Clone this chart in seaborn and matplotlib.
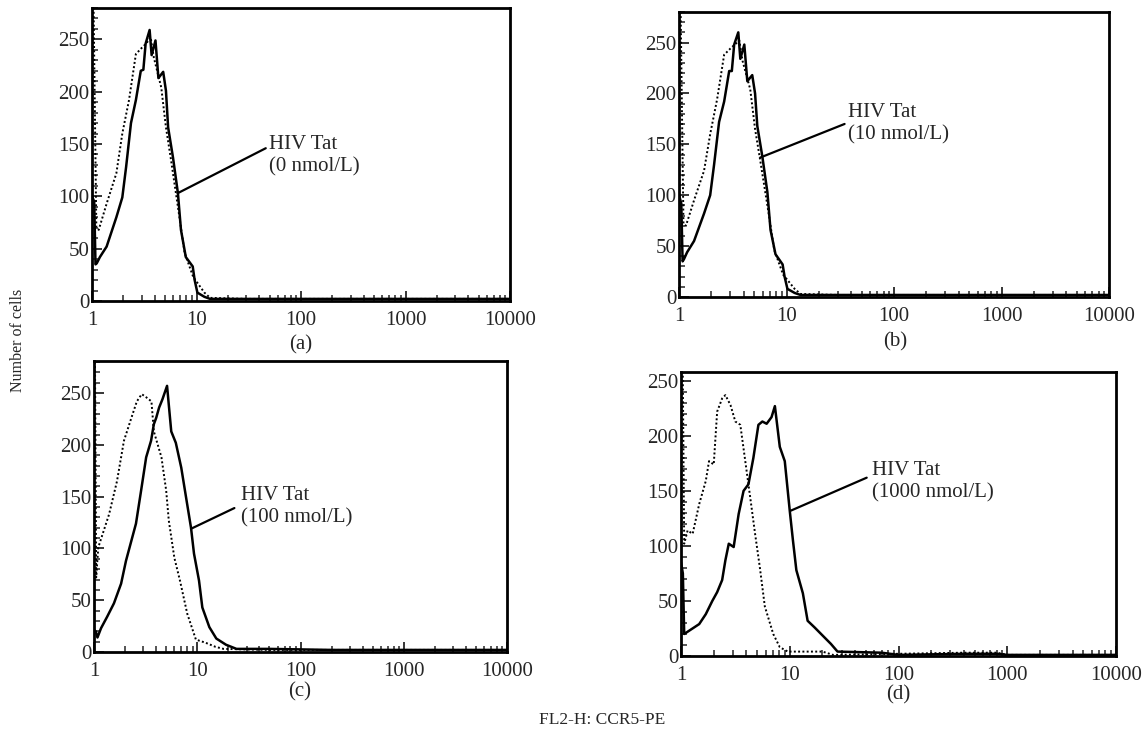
import numpy as np
import pandas as pd
import seaborn as sns
import matplotlib
matplotlib.use("Agg")
import matplotlib.pyplot as plt
from matplotlib.ticker import LogLocator, FixedLocator, MultipleLocator, NullFormatter

# ---------------- data ----------------
# panel (a): HIV Tat 0 nmol/L
a_solid_x = [1.0, 1.05, 1.08, 1.11, 1.19, 1.38, 1.71, 1.95, 2.12, 2.36, 2.63, 2.93, 3.1, 3.26, 3.56, 3.72, 4.05, 4.32,
             4.8, 5.1, 5.35, 5.96, 6.64, 7.1, 7.9, 9.2, 9.6, 10.2, 11.9, 13.5, 30, 100, 1000, 10000]
a_solid_y = [100, 95, 35, 36, 42, 52, 80, 99, 128, 170, 192, 220, 221, 246, 259, 235, 249, 213,
             219, 201, 166, 137, 103, 68, 42, 33, 20, 8, 4, 2, 2, 2, 2, 2]
a_dot_x = [1.0, 1.03, 1.1, 1.16, 1.38, 1.71, 1.95, 2.26, 2.63, 3.0, 3.3, 3.64, 3.9, 4.6, 5.1, 5.7, 6.64, 7.7,
           9.3, 11.9, 13.5, 30, 100, 1000, 10000]
a_dot_y = [300, 300, 70, 68, 93, 122, 160, 192, 236, 242, 246, 252, 233, 204, 166, 135, 90, 46,
           23, 8, 3, 2, 2, 2, 2]

# panel (b): HIV Tat 10 nmol/L
b_solid_x = [1.0, 1.05, 1.08, 1.11, 1.19, 1.38, 1.71, 1.95, 2.12, 2.36, 2.63, 2.93, 3.1, 3.26, 3.56, 3.72, 4.05, 4.32,
             4.8, 5.1, 5.35, 5.96, 6.64, 7.1, 7.9, 9.2, 9.6, 10.2, 11.9, 13.5, 30, 100, 1000, 10000]
b_solid_y = [100, 92, 35, 37, 44, 55, 82, 100, 130, 172, 192, 222, 222, 248, 260, 234, 248, 212,
             218, 200, 168, 138, 103, 66, 42, 32, 20, 8, 4, 2, 2, 2, 2, 2]
b_dot_x = [1.0, 1.03, 1.1, 1.16, 1.38, 1.71, 1.95, 2.26, 2.63, 3.0, 3.3, 3.64, 3.9, 4.6, 5.1, 5.7, 6.64, 7.7,
           9.3, 11.9, 13.5, 30, 100, 1000, 10000]
b_dot_y = [300, 300, 72, 70, 95, 124, 160, 194, 238, 244, 248, 252, 232, 204, 165, 134, 90, 46,
           22, 8, 3, 2, 2, 2, 2]

# panel (c): HIV Tat 100 nmol/L
c_solid_x = [1.0, 1.04, 1.08, 1.17, 1.34, 1.56, 1.83, 2.04, 2.55, 2.86, 3.2, 3.57, 3.8, 4.0, 4.27, 4.6, 5.1, 5.6,
             6.2, 7.0, 7.8, 8.7, 9.3, 10.4, 11.2, 13.1, 15.3, 19, 24, 50, 200, 1000, 10000]
c_solid_y = [21, 20, 14, 23, 34, 47, 66, 88, 124, 156, 188, 204, 220, 226, 236, 244, 257, 213,
             202, 178, 149, 120, 95, 69, 43, 24, 13, 7, 3, 3, 2, 2, 2]
c_dot_x = [1.0, 1.02, 1.05, 1.1, 1.4, 1.67, 1.95, 2.3, 2.6, 2.9, 3.2, 3.6, 3.8, 4.5, 5.0, 5.3, 6.0, 6.8, 8.0,
           9.7, 12, 15, 18, 50, 200, 1000, 10000]
c_dot_y = [300, 300, 72, 101, 133, 165, 204, 226, 242, 249, 246, 242, 213, 188, 156, 127, 91, 69, 37,
           12, 9, 5, 3, 2, 2, 2, 2]

# panel (d): HIV Tat 1000 nmol/L
d_solid_x = [1.0, 1.04, 1.07, 1.47, 1.69, 1.94, 2.15, 2.39, 2.56, 2.75, 3.05, 3.39, 3.76, 4.17, 4.63, 5.15, 5.6,
             6.13, 6.8, 7.3, 8.1, 9.0, 10.0, 10.7, 11.5, 13.2, 14.6, 16.9, 20.8, 23.9, 27.5, 70, 100, 400, 800,
             1000, 10000]
d_solid_y = [85, 75, 20, 29, 38, 50, 58, 69, 87, 102, 99, 129, 150, 156, 180, 210, 213,
             211, 217, 227, 190, 177, 132, 105, 78, 57, 32, 26, 17, 11, 4, 3, 1, 2, 2,
             1, 1]
d_dot_x = [1.0, 1.03, 1.07, 1.15, 1.28, 1.47, 1.69, 1.81, 2.0, 2.15, 2.39, 2.56, 2.85, 3.16, 3.51, 3.9, 4.33,
           4.8, 5.3, 5.9, 7.05, 8.1, 9.6, 20, 25, 400, 800, 1000, 10000]
d_dot_y = [300, 300, 102, 114, 111, 138, 159, 177, 174, 222, 234, 237, 228, 213, 210, 177, 144,
           111, 81, 45, 20, 8, 4, 4, 1, 3, 3, 1, 1]

panel_letters = ["(a)", "(b)", "(c)", "(d)"]
panel_labels = ["HIV Tat\n(0 nmol/L)", "HIV Tat\n(10 nmol/L)", "HIV Tat\n(100 nmol/L)", "HIV Tat\n(1000 nmol/L)"]
x_ticks = [1, 10, 100, 1000, 10000]
x_ticklabels = ["1", "10", "100", "1000", "10000"]
y_ticks = [0, 50, 100, 150, 200, 250]
ylabel = "Number of cells"
xlabel = "FL2-H: CCR5-PE"

# ---------------- style ----------------
sns.set_style("ticks")
plt.rcParams["font.family"] = ["Liberation Serif", "DejaVu Serif"]
plt.rcParams["mathtext.fontset"] = "stix"

W, H = 1147, 733
fig = plt.figure(figsize=(W / 100, H / 100), dpi=100)

# axes rectangles in pixels: left, right, top, bottom
rects = [(92, 510, 8, 301), (679, 1109, 12, 297), (94, 507, 361, 652), (681, 1116, 372, 656)]
ylims = [280, 280, 281, 258]
# annotation: (line start xy), (line end xy), (text xy)
annos = [((6.6, 103), (46, 146), (49, 139)),
         ((5.7, 137), (34.7, 170), (37, 170)),
         ((8.7, 119), (22.9, 139), (26.6, 140)),
         ((10.2, 132), (51, 162), (57, 158))]
letter_pos = [(301, 345), (895, 342), (300, 692), (898, 695)]

panels = [(a_solid_x, a_solid_y, a_dot_x, a_dot_y),
          (b_solid_x, b_solid_y, b_dot_x, b_dot_y),
          (c_solid_x, c_solid_y, c_dot_x, c_dot_y),
          (d_solid_x, d_solid_y, d_dot_x, d_dot_y)]

for i, (sx, sy, dx, dy) in enumerate(panels):
    l, r, t, b = rects[i]
    ax = fig.add_axes([l / W, 1 - b / H, (r - l) / W, (b - t) / H])
    df_s = pd.DataFrame({"x": sx, "y": sy})
    df_d = pd.DataFrame({"x": dx, "y": dy})
    sns.lineplot(data=df_d, x="x", y="y", ax=ax, color="black", linestyle=(0, (1, 1.2)),
                 linewidth=1.4, estimator=None, sort=False)
    sns.lineplot(data=df_s, x="x", y="y", ax=ax, color="black", linestyle="-",
                 linewidth=1.8, estimator=None, sort=False)
    ax.set_xscale("log")
    ax.set_xlim(1, 10000)
    ax.set_ylim(0, ylims[i])
    ax.xaxis.set_major_locator(FixedLocator(x_ticks))
    ax.set_xticklabels(x_ticklabels)
    ax.xaxis.set_minor_locator(LogLocator(base=10, subs=np.arange(2, 10)))
    ax.xaxis.set_minor_formatter(NullFormatter())
    ax.yaxis.set_major_locator(FixedLocator(y_ticks))
    ax.yaxis.set_minor_locator(MultipleLocator(10))
    ax.tick_params(axis="both", which="major", direction="in", length=7, width=1.3,
                   labelsize=15, top=False, right=False)
    ax.tick_params(axis="both", which="minor", direction="in", length=4, width=1.1,
                   top=False, right=False)
    ax.tick_params(axis="x", pad=7)
    ax.tick_params(axis="y", pad=2)
    for s in ax.spines.values():
        s.set_visible(True)
        s.set_linewidth(2)
        s.set_color("black")
    ax.set_xlabel("")
    ax.set_ylabel("")
    (p0, p1, pt) = annos[i]
    ax.annotate("", xy=p0, xytext=p1,
                arrowprops=dict(arrowstyle="-", color="black", lw=1.6, shrinkA=0, shrinkB=0))
    ax.text(pt[0], pt[1], panel_labels[i], fontsize=15, ha="left", va="center", linespacing=1.25)
    lx, ly = letter_pos[i]
    fig.text(lx / W, 1 - ly / H, panel_letters[i], fontsize=15, ha="center", va="center")

fig.text(18 / W, 1 - 340 / H, ylabel, rotation=90, fontsize=11.5, ha="center", va="center")
fig.text(602 / W, 1 - 720 / H, xlabel, fontsize=12.5, ha="center", va="center")

fig.savefig("out.png", dpi=100, facecolor="white")
